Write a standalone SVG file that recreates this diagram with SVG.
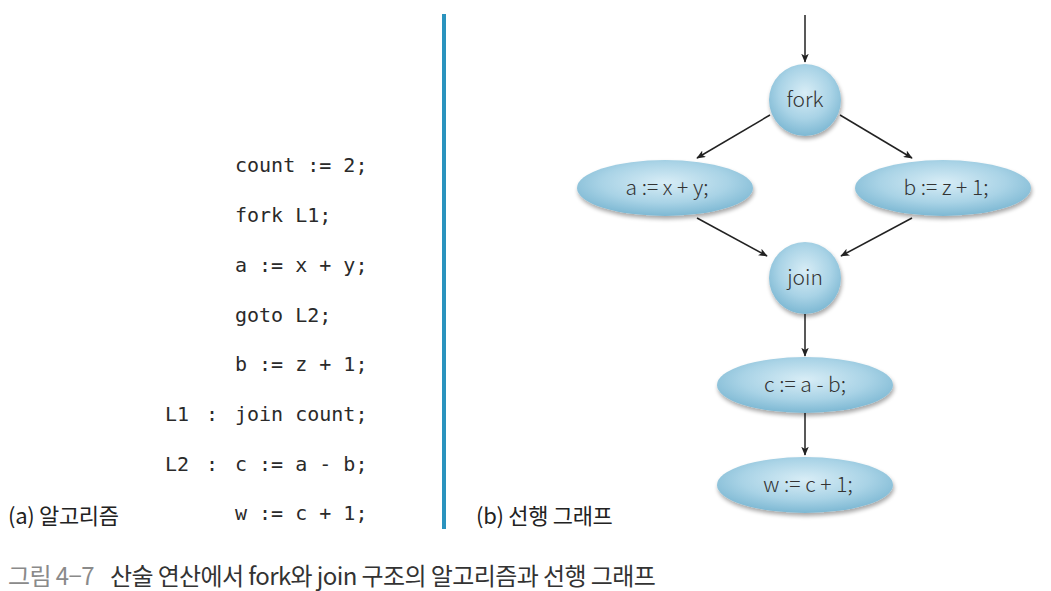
<svg xmlns="http://www.w3.org/2000/svg" width="1051" height="591" viewBox="0 0 1051 591">
<style>
.code{font-family:"DejaVu Sans Mono","Liberation Mono",monospace;font-size:20px;fill:#2a2a2a}
.lbl{font-family:"Noto Sans CJK KR","Noto Sans",sans-serif;font-size:21px;fill:#333;text-anchor:middle;font-weight:300}
.kr{font-family:"Noto Sans CJK KR","Noto Sans",sans-serif;font-size:22px;fill:#222;letter-spacing:-0.3px}
.cap{font-family:"Noto Sans CJK KR","Noto Sans",sans-serif;font-size:24px;letter-spacing:-0.6px}
.edge{stroke:#222;stroke-width:1.5;fill:none;marker-end:url(#ah)}
.node{fill:url(#g);filter:url(#sh)}
</style>
<defs>
<radialGradient id="g" cx="0.5" cy="0.4" r="0.6">
<stop offset="0" stop-color="#d8edf6"/>
<stop offset="0.6" stop-color="#a9d3e6"/>
<stop offset="1" stop-color="#7db8d3"/>
</radialGradient>
<filter id="sh" x="-20%" y="-20%" width="140%" height="150%">
<feGaussianBlur in="SourceAlpha" stdDeviation="2"/>
<feOffset dx="1" dy="3" result="b"/>
<feComponentTransfer><feFuncA type="linear" slope="0.35"/></feComponentTransfer>
<feMerge><feMergeNode/><feMergeNode in="SourceGraphic"/></feMerge>
</filter>
<marker id="ah" viewBox="0 0 12 10" refX="11" refY="5" markerWidth="9" markerHeight="7.5" orient="auto" markerUnits="userSpaceOnUse">
<path d="M0,0 L12,5 L0,10 L3,5 Z" fill="#222"/>
</marker>
</defs>
<rect width="1051" height="591" fill="#fff"/>

<g id="code">
<text class="code" x="235" y="172">count := 2;</text>
<text class="code" x="235" y="222">fork L1;</text>
<text class="code" x="235" y="272">a := x + y;</text>
<text class="code" x="235" y="322">goto L2;</text>
<text class="code" x="235" y="371">b := z + 1;</text>
<text class="code" x="165" y="421">L1</text><text class="code" x="206" y="421">:</text>
<text class="code" x="235" y="421">join count;</text>
<text class="code" x="165" y="471">L2</text><text class="code" x="206" y="471">:</text>
<text class="code" x="235" y="471">c := a - b;</text>
<text class="code" x="235" y="520">w := c + 1;</text>
</g>

<rect id="divider" x="442" y="14" width="4" height="515" fill="#2a93be"/>

<g id="connectors">
<line class="edge" x1="805" y1="15" x2="805" y2="62"/>
<line class="edge" x1="770" y1="115" x2="697" y2="158"/>
<line class="edge" x1="840" y1="115" x2="912" y2="158"/>
<line class="edge" x1="697" y1="218" x2="767" y2="256"/>
<line class="edge" x1="912" y1="218" x2="841" y2="256"/>
<line class="edge" x1="805" y1="314" x2="805" y2="356"/>
<line class="edge" x1="805" y1="413" x2="805" y2="455"/>
</g>

<g id="n-fork"><circle class="node" cx="805" cy="100" r="36"/><text class="lbl" x="805" y="107">fork</text></g>
<g id="n-a"><ellipse class="node" cx="665" cy="188" rx="88" ry="28"/><text class="lbl" x="667" y="195">a := x + y;</text></g>
<g id="n-b"><ellipse class="node" cx="943" cy="188" rx="88" ry="28"/><text class="lbl" x="946" y="195">b := z + 1;</text></g>
<g id="n-join"><circle class="node" cx="805" cy="278" r="36"/><text class="lbl" x="805" y="285">join</text></g>
<g id="n-c"><ellipse class="node" cx="805" cy="385" rx="88" ry="28"/><text class="lbl" x="805" y="392">c := a - b;</text></g>
<g id="n-w"><ellipse class="node" cx="805" cy="485" rx="88" ry="28"/><text class="lbl" x="808" y="492">w := c + 1;</text></g>

<text class="kr" x="8" y="524">(a) 알고리즘</text>
<text class="kr" x="476" y="524">(b) 선행 그래프</text>
<text class="cap" x="8" y="585"><tspan fill="#8a8a8a">그림 4−7</tspan><tspan dx="16" fill="#333">산술 연산에서 fork와 join 구조의 알고리즘과 선행 그래프</tspan></text>
</svg>
